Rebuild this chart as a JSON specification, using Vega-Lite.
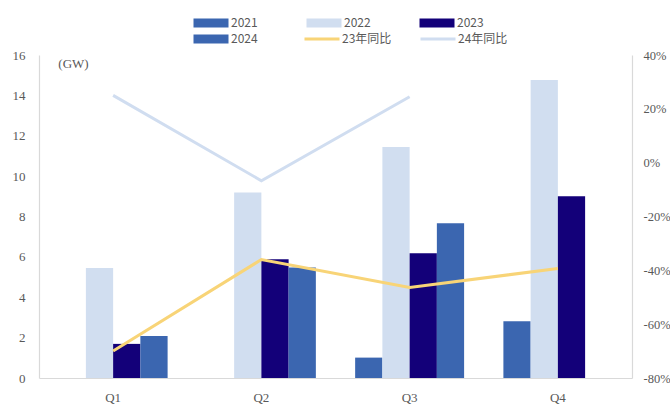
{
  "$schema": "https://vega.github.io/schema/vega-lite/v6.json",
  "width": 593,
  "height": 323,
  "autosize": "none",
  "padding": {"left": 39, "top": 55, "right": 38, "bottom": 28},
  "background": "#ffffff",
  "config": {
    "view": {"stroke": null},
    "axis": {"grid": false, "ticks": false, "domainColor": "#d9d9d9", "domainWidth": 1.2, "labelColor": "#595959", "labelFont": "Liberation Serif", "labelFontSize": 13},
    "legend": {"labelFont": "Noto Sans CJK SC", "labelFontSize": 12, "labelColor": "#595959", "labelOffset": 0, "padding": 0, "title": null}
  },
  "datasets": {
    "bars": [
      {"q": "Q1", "year": "2022", "gw": 5.45},
      {"q": "Q1", "year": "2023", "gw": 1.69},
      {"q": "Q1", "year": "2024", "gw": 2.08},
      {"q": "Q2", "year": "2022", "gw": 9.19},
      {"q": "Q2", "year": "2023", "gw": 5.88},
      {"q": "Q2", "year": "2024", "gw": 5.47},
      {"q": "Q3", "year": "2021", "gw": 1.01},
      {"q": "Q3", "year": "2022", "gw": 11.44},
      {"q": "Q3", "year": "2023", "gw": 6.18},
      {"q": "Q3", "year": "2024", "gw": 7.67},
      {"q": "Q4", "year": "2021", "gw": 2.81},
      {"q": "Q4", "year": "2022", "gw": 14.76},
      {"q": "Q4", "year": "2023", "gw": 9.0}
    ],
    "yoy": [
      {"q": "Q1", "series": "23年同比", "pct": -0.70},
      {"q": "Q2", "series": "23年同比", "pct": -0.36},
      {"q": "Q3", "series": "23年同比", "pct": -0.464},
      {"q": "Q4", "series": "23年同比", "pct": -0.393},
      {"q": "Q1", "series": "24年同比", "pct": 0.25},
      {"q": "Q2", "series": "24年同比", "pct": -0.067},
      {"q": "Q3", "series": "24年同比", "pct": 0.245}
    ]
  },
  "encoding": {
    "x": {
      "field": "q", "type": "nominal",
      "scale": {"domain": ["Q1", "Q2", "Q3", "Q4"], "paddingInner": 0.265, "paddingOuter": 0.1325},
      "axis": {"title": null, "labelAngle": 0, "labelPadding": 13, "domainColor": "#d9d9d9"}
    }
  },
  "layer": [
    {
      "data": {"name": "bars"},
      "mark": {"type": "bar", "cornerRadius": 0},
      "encoding": {
        "xOffset": {"field": "year", "type": "nominal", "scale": {"domain": ["2021", "2022", "2023", "2024"], "paddingInner": 0, "paddingOuter": 0}},
        "y": {
          "field": "gw", "type": "quantitative",
          "scale": {"domain": [0, 16], "nice": false},
          "axis": {"values": [0, 2, 4, 6, 8, 10, 12, 14, 16], "labelPadding": 14, "title": "(GW)", "titleAngle": 0, "titleX": 34, "titleY": 8, "titleAlign": "center", "titleBaseline": "middle", "titleFont": "Liberation Serif", "titleFontSize": 13, "titleFontWeight": "normal", "titleColor": "#595959"}
        },
        "color": {
          "field": "year", "type": "nominal",
          "scale": {"domain": ["2021", "2022", "2023", "2024"], "range": ["#3b66b0", "#d1def0", "#130079", "#3b66b0"]},
          "legend": {"orient": "none", "legendX": 180, "legendY": -38, "direction": "horizontal", "columns": 3, "columnPadding": 48, "rowPadding": 4, "symbolType": "M-9,-1.3H1V1.3H-9Z", "symbolSize": 49, "symbolStrokeWidth": 0, "symbolOpacity": 1}
        }
      }
    },
    {
      "data": {"name": "yoy"},
      "mark": {"type": "line", "strokeWidth": 3},
      "encoding": {
        "y": {
          "field": "pct", "type": "quantitative",
          "scale": {"domain": [-0.8, 0.4], "nice": false},
          "axis": {"orient": "right", "values": [-0.8, -0.6, -0.4, -0.2, 0, 0.2, 0.4], "labelExpr": "replace(format(datum.value, '.0%'), '\u2212', '-')", "labelFontSize": 12.5, "labelPadding": 11, "title": null}
        },
        "stroke": {
          "field": "series", "type": "nominal",
          "scale": {"domain": ["23年同比", "24年同比"], "range": ["#f8d477", "#d0ddf0"]},
          "legend": {"orient": "none", "legendX": 291, "legendY": -22, "direction": "horizontal", "columns": 2, "columnPadding": 22, "symbolType": "M-9,0H1", "symbolSize": 49, "symbolStrokeWidth": 3}
        }
      }
    }
  ],
  "resolve": {"scale": {"y": "independent", "color": "independent"}}
}
